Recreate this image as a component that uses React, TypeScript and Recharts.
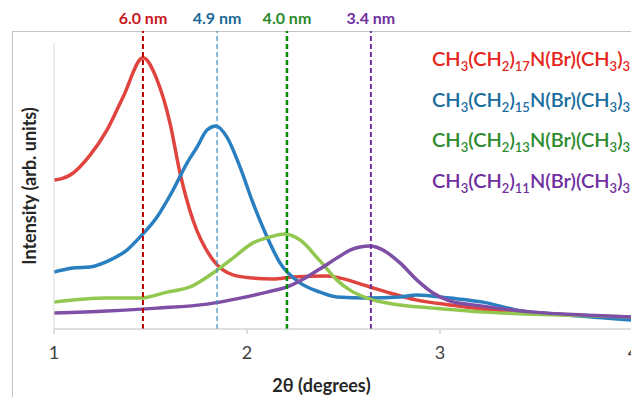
import { LineChart, Line, XAxis, YAxis, ReferenceLine, ReferenceDot } from "recharts";

// 2θ (degrees), intensity (arb. units, 0..100)
const c18: [number, number][] = [
  [1.0, 52.1], [1.04, 52.6], [1.083, 53.8], [1.187, 60.8], [1.275, 69.6], [1.358, 81.1], [1.461, 94.8],
  [1.534, 87.1], [1.601, 72.0], [1.653, 54.5], [1.72, 38.1], [1.824, 24.1], [1.927, 18.9],
  [2.031, 17.8], [2.135, 17.5], [2.238, 18.2], [2.415, 18.5], [2.482, 17.8], [2.637, 14.7],
  [2.741, 12.6], [2.881, 10.1], [3.052, 8.4], [3.311, 6.3], [3.482, 5.6], [4.0, 3.8],
];
const c16: [number, number][] = [
  [1.0, 19.9], [1.098, 21.3], [1.187, 21.7], [1.29, 24.1], [1.378, 27.6], [1.446, 32.2],
  [1.534, 39.2], [1.617, 48.6], [1.689, 58.0], [1.741, 63.6], [1.793, 69.6], [1.839, 71.0],
  [1.896, 67.1], [1.964, 56.6], [2.031, 44.1], [2.104, 32.2], [2.171, 23.1], [2.275, 16.1],
  [2.378, 12.9], [2.466, 11.2], [2.622, 10.8], [2.793, 11.2], [2.881, 11.9], [3.052, 10.8],
  [3.223, 9.4], [3.399, 6.6], [3.658, 4.9], [4.0, 3.1],
];
const c14: [number, number][] = [
  [1.0, 9.4], [1.275, 10.8], [1.446, 10.8], [1.585, 12.9], [1.705, 14.7], [1.824, 19.6],
  [1.927, 24.8], [2.031, 30.1], [2.119, 32.2], [2.197, 33.2], [2.275, 31.1], [2.378, 23.8],
  [2.466, 17.1], [2.534, 13.6], [2.622, 10.8], [2.793, 8.4], [2.964, 7.3], [3.223, 5.9],
  [3.482, 5.2], [4.0, 4.2],
];
const c12: [number, number][] = [
  [1.0, 5.6], [1.275, 6.3], [1.534, 7.3], [1.793, 8.7], [1.964, 10.8], [2.104, 12.9],
  [2.207, 14.7], [2.311, 18.2], [2.394, 21.7], [2.482, 25.5], [2.534, 27.6], [2.637, 29.0],
  [2.705, 27.6], [2.793, 23.1], [2.881, 17.1], [2.964, 12.6], [3.052, 9.8], [3.223, 8.0],
  [3.482, 5.9], [3.741, 4.9], [4.0, 4.2],
];

const chainCounts = [17, 15, 13, 11];
const peakPositions = [1.461, 1.845, 2.207, 2.642];
const peakLabels = ["6.0 nm", "4.9 nm", "4.0 nm", "3.4 nm"];
const xTicks = [1, 2, 3, 4];

const curveColors = ["#e0443e", "#2a7fc1", "#92c850", "#7f4fa6"];
const textColors = ["#e52520", "#1a6d9e", "#2e8b30", "#7030a0"];
const labelColors = ["#c8161c", "#1b6a9a", "#2a8a2a", "#7030a0"];
const dashColors = ["#c00000", "#3a8cc4", "#008a00", "#7030a0"];
const dashWidths = [2, 1.2, 2.5, 2];

const series = [c18, c16, c14, c12].map((pts) => pts.map(([x, y]) => ({ x, y })));

const font = "Lato, 'Open Sans', sans-serif";

export default function App() {
  return (
    <div
      style={{
        position: "relative",
        width: 639,
        height: 405,
        margin: -8,
        overflow: "hidden",
        fontFamily: font,
        background: "#fff",
      }}
    >
      <div
        style={{
          position: "absolute",
          left: 12,
          top: 31,
          width: 660,
          height: 420,
          border: "1.5px solid #c4c4c4",
        }}
      />
      <LineChart
        width={631}
        height={397}
        margin={{ top: 35, right: 6, left: 0, bottom: 0 }}
        style={{ position: "absolute", left: 8, top: 8, overflow: "visible" }}
      >
        <XAxis
          type="number"
          dataKey="x"
          domain={[1, 4]}
          ticks={xTicks}
          height={76}
          tickSize={5}
          tickMargin={12}
          stroke="#bfbfbf"
          interval={0}
          tick={{ fill: "#404040", fontSize: 18, fontFamily: font }}
          label={{
            value: "2θ (degrees)",
            position: "insideBottom",
            offset: 13,
            dx: -22,
            fill: "#262626",
            fontSize: 18,
            fontWeight: 700,
            fontFamily: font,
          }}
        />
        <YAxis
          type="number"
          domain={[0, 100]}
          width={46}
          tick={false}
          tickLine={false}
          axisLine={{ stroke: "#d9d9d9" }}
          label={{
            value: "Intensity (arb. units)",
            angle: -90,
            position: "insideLeft",
            offset: 22,
            fill: "#262626",
            fontSize: 18,
            fontWeight: 700,
            fontFamily: font,
            style: { textAnchor: "middle" },
          }}
        />
        {series.map((d, i) => (
          <Line
            key={i}
            data={d}
            dataKey="y"
            type="monotone"
            stroke={curveColors[i]}
            strokeWidth={3.5}
            dot={false}
            isAnimationActive={false}
          />
        ))}
        {peakPositions.map((p, i) => (
          <ReferenceLine
            key={"r" + i}
            segment={[
              { x: p, y: 0 },
              { x: p, y: 104.2 },
            ]}
            ifOverflow="visible"
            stroke={dashColors[i]}
            strokeWidth={dashWidths[i]}
            strokeDasharray="5 3"
          />
        ))}
        {peakPositions.map((p, i) => (
          <ReferenceDot
            key={"l" + i}
            x={p}
            y={108.7}
            r={0}
            ifOverflow="visible"
            label={{
              value: peakLabels[i],
              position: "center",
              fill: labelColors[i],
              fontSize: 16,
              fontWeight: 700,
              fontFamily: font,
            }}
          />
        ))}
      </LineChart>
      <div style={{ position: "absolute", left: 432, top: 42, lineHeight: "32.7px" }}>
        {chainCounts.map((n, i) => (
          <div key={n} style={{ color: textColors[i], fontSize: 20, fontWeight: 600, whiteSpace: "nowrap" }}>
            CH<sub style={{ fontSize: 13 }}>3</sub>(CH<sub style={{ fontSize: 13 }}>2</sub>)
            <sub style={{ fontSize: 13 }}>{n}</sub>N(Br)(CH<sub style={{ fontSize: 13 }}>3</sub>)
            <sub style={{ fontSize: 13 }}>3</sub>
          </div>
        ))}
      </div>
    </div>
  );
}
